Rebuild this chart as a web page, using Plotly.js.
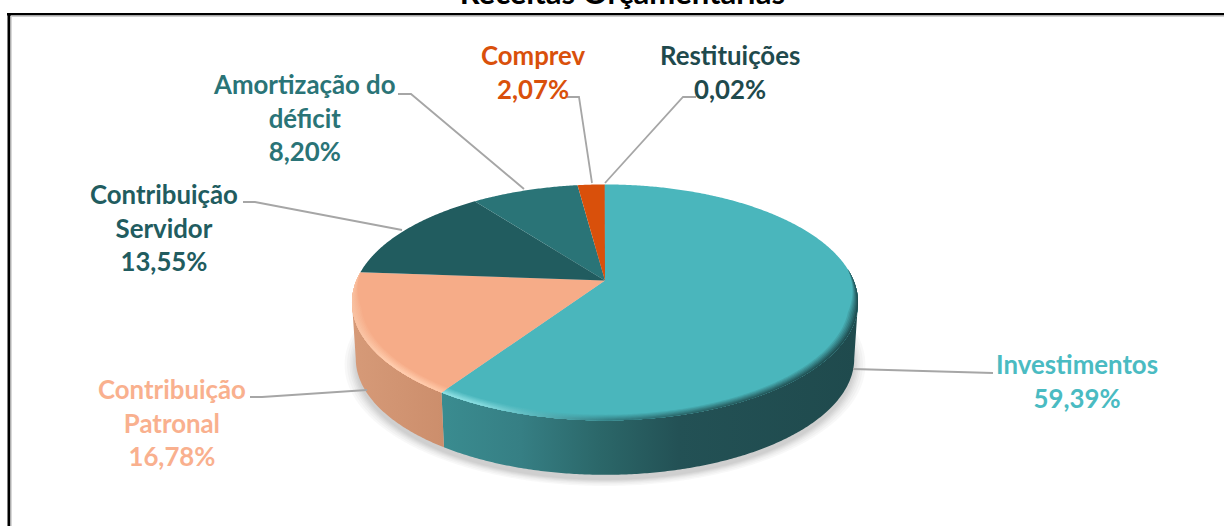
<!DOCTYPE html>
<html lang="pt">
<head>
<meta charset="utf-8">
<script src="https://cdn.plot.ly/plotly-3.0.1.min.js"></script>
<style>html,body{margin:0;padding:0;background:#fff;overflow:hidden}#chart{width:1224px;height:526px}</style>
</head>
<body>
<div id="chart"></div>
<script>
// Data
const categories = ['Investimentos', 'Contribuição Patronal', 'Contribuição Servidor', 'Amortização do déficit', 'Comprev', 'Restituições'];
const values = [59.39, 16.78, 13.55, 8.20, 2.07, 0.02];
const valueLabels = ['59,39%', '16,78%', '13,55%', '8,20%', '2,07%', '0,02%'];
const labelLines = ['Investimentos', 'Contribuição<br>Patronal', 'Contribuição<br>Servidor', 'Amortização do<br>déficit', 'Comprev', 'Restituições'];
const faceColors = ['#4AB6BC', '#F6AC88', '#215C5F', '#2A7477', '#D9500B', '#1F4A4D'];
const textColors = ['#4ABBC2', '#F9B08E', '#215C5F', '#2A7477', '#D9500B', '#1F4A4D'];
const labelX = [1077, 172, 164, 304, 533, 730];
const labelY = [381, 422, 227, 117, 72, 72];
const leaders = [
  [[993,373],[853,369]],
  [[250,397],[262,397],[367,390]],
  [[243,202],[255,202],[402,230]],
  [[398,94],[411,94],[524,189]],
  [[567,97],[579,97],[592,183]],
  [[696,97],[683,97],[605,183]]
];

// Tilted-disc projection
const G = {cx:605, cy:280.5, rx:248.6, ry:113.9, k:0.186, depth:56.5, bottomScale:0.985, silR:100.7, silL:259.3};
function pt(deg, r, s, dy) {
  const a = deg * Math.PI / 180, X = r * Math.sin(a), Y = r * Math.cos(a), w = 1 + G.k * Y;
  return [G.cx + G.rx * s * X / w, G.cy - G.ry * s * Y / w + dy];
}
function arc(a1, a2, r, s, dy) {
  const n = Math.max(2, Math.ceil(Math.abs(a2 - a1) * 2)), out = [];
  for (let i = 0; i <= n; i++) out.push(pt(a1 + (a2 - a1) * i / n, r, s, dy));
  return out;
}
function poly(points, extra) {
  return Object.assign({
    type: 'scatter', mode: 'none', fill: 'toself', hoverinfo: 'skip', showlegend: false,
    x: points.map(p => p[0]).concat([points[0][0]]),
    y: points.map(p => p[1]).concat([points[0][1]])
  }, extra);
}
function grad(stops) { return {type: 'horizontal', colorscale: stops}; }
function hex(c) { return [1, 3, 5].map(i => parseInt(c.substr(i, 2), 16)); }
function mix(c1, c2, t) {
  const a = hex(c1), b = hex(c2);
  return 'rgb(' + a.map((v, i) => Math.round(v + (b[i] - v) * t)).join(',') + ')';
}

const total = values.reduce((a, b) => a + b, 0);
const starts = [], ends = [];
let acc = 0;
values.forEach(v => { starts.push(acc / total * 360); acc += v; ends.push(acc / total * 360); });

const traces = [];
// soft shadow
[1.045, 1.035, 1.025, 1.018, 1.012, 1.006, 1.0].forEach(s => {
  traces.push(poly(arc(0, 360, 1, s * G.bottomScale, G.depth + 5), {fillcolor: 'rgba(0,0,0,0.028)'}));
});
// side wall
const wallStops = [
  [[0,'#3A8C90'],[0.19,'#367F84'],[0.38,'#2B6769'],[0.57,'#235155'],[1,'#1F4A4D']],
  [[0,'#D69A78'],[1,'#CC8E6C']]
];
[[G.silR, ends[0]], [ends[0], G.silL]].forEach((rng, i) => {
  const top = arc(rng[0], rng[1], 1, 1, 0), bot = arc(rng[1], rng[0], 1, G.bottomScale, G.depth);
  traces.push(poly(top.concat(bot), {fillgradient: grad(wallStops[i]), name: categories[i] + ' (lateral)'}));
});
// top face slices
values.forEach((v, i) => {
  traces.push(poly([[G.cx, G.cy]].concat(arc(starts[i], ends[i], 1, 1, 0)), {
    fillcolor: faceColors[i], name: categories[i], hoverinfo: 'text', text: categories[i] + ' ' + valueLabels[i]
  }));
});
// soft bevel on the front rim, tapering out at its far ends
function bevel(a1, a2, width, taperStart, taperEnd, face, rimStops) {
  const N = 6;
  for (let b = 0; b < N; b++) {
    const t = (b + 1) / N, wd = width * (1 - b / N);
    const inner = [], n = Math.ceil(Math.abs(a2 - a1) * 2);
    for (let i = n; i >= 0; i--) {
      const a = a1 + (a2 - a1) * i / n;
      const taper = Math.min(1, taperStart ? (a - a1) / taperStart : 1, taperEnd ? (a2 - a) / taperEnd : 1);
      inner.push(pt(a, 1 - wd * taper, 1, 0));
    }
    const stops = rimStops.map(s => [s[0], mix(face, s[1], t)]);
    traces.push(poly(arc(a1, a2, 1, 1, 0).concat(inner), {fillgradient: grad(stops)}));
  }
}
bevel(84, ends[0], 0.034, 22, 0, faceColors[0],
  [[0,'#8FE0E3'],[0.1,'#84DADD'],[0.22,'#5CB8BD'],[0.4,'#337F84'],[0.65,'#275F62'],[1,'#1F4E51']]);
bevel(ends[0], ends[1], 0.034, 0, 18, faceColors[1],
  [[0,'#F8C0A0'],[0.4,'#FFCDAE'],[0.75,'#FFCBAC'],[1,'#FFC7A6']]);

const gray = '#A6A6A6';
const shapes = [];
leaders.forEach(pts => {
  shapes.push({type:'path', xref:'x', yref:'y', layer:'above', line:{color:gray, width:1.8},
    path:'M' + pts.map(p => p[0] + ',' + p[1]).join('L')});
});
// frame
shapes.push({type:'line', xref:'x', yref:'y', x0:7, x1:1224, y0:14.2, y1:14.2, line:{color:'#000', width:2.4}});
shapes.push({type:'line', xref:'x', yref:'y', x0:11, x1:1224, y0:16.2, y1:16.2, line:{color:'#CFCFCF', width:1.6}});
shapes.push({type:'line', xref:'x', yref:'y', x0:9, x1:9, y0:13, y1:526, line:{color:'#000', width:3}});
shapes.push({type:'line', xref:'x', yref:'y', x0:11.2, x1:11.2, y0:16, y1:526, line:{color:'#D6D6D6', width:1.5}});

const annotations = categories.map((c, i) => ({
  xref:'x', yref:'y', x:labelX[i], y:labelY[i], xanchor:'center', yanchor:'middle', showarrow:false,
  text:'<b>' + labelLines[i] + '<br>' + valueLabels[i] + '</b>',
  font:{family:'Lato, Carlito, sans-serif', size:25.8, color:textColors[i]}, align:'center'
}));

Plotly.newPlot('chart', traces, {
  width:1224, height:526, margin:{l:0, r:0, t:0, b:0, pad:0},
  paper_bgcolor:'#fff', plot_bgcolor:'rgba(0,0,0,0)', showlegend:false,
  title:{text:'<b>Receitas Orçamentárias</b>', x:0.5085, xanchor:'center', y:0.992, yanchor:'bottom',
    font:{family:'Lato, Carlito, sans-serif', size:31, color:'#000'}},
  xaxis:{range:[0,1224], visible:false, fixedrange:true},
  yaxis:{range:[526,0], visible:false, fixedrange:true},
  shapes:shapes, annotations:annotations
}, {displayModeBar:false, staticPlot:true});
</script>
</body>
</html>
